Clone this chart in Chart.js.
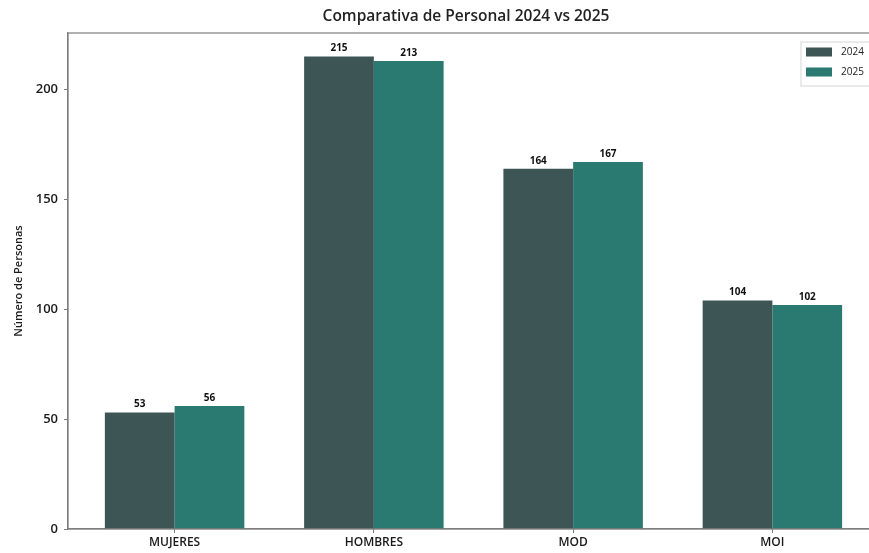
<!DOCTYPE html>
<html>
<head>
<meta charset="utf-8">
<script src="https://cdn.jsdelivr.net/npm/chart.js@4.4.1/dist/chart.umd.min.js"></script>
<style>
    html, body { margin: 0; padding: 0; background: #fff; }
    #wrap { width: 869px; height: 553px; overflow: hidden; position: relative; }
    #wrap .box { width: 932px; height: 553px; }
</style>
</head>
<body>
<div id="wrap"><div class="box"><canvas id="myChart"></canvas></div></div>
<script>
const titulo = 'Comparativa de Personal 2024 vs 2025';
const categorias = ["MUJERES", "HOMBRES", "MOD", "MOI"];
const personal2024 = [53, 215, 164, 104];
const personal2025 = [56, 213, 167, 102];
const yTicks = [0, 50, 100, 150, 200];

const FONT = "'Open Sans', sans-serif";

// titulo centrado sobre la figura completa
const tituloPlugin = {
    id: 'tituloPlugin',
    afterDraw(chart) {
        const { ctx, width } = chart;
        ctx.save();
        ctx.font = `600 15.5px ${FONT}`;
        ctx.fillStyle = '#222';
        ctx.textAlign = 'center';
        ctx.textBaseline = 'middle';
        ctx.fillText(titulo, width / 2, 17);
        ctx.restore();
    }
};

// marco completo del area de graficos (arriba y derecha incluidos)
const marco = {
    id: 'marco',
    afterDatasetsDraw(chart) {
        const { ctx, chartArea: a } = chart;
        ctx.save();
        ctx.strokeStyle = '#7d7d7d';
        ctx.lineWidth = 1.2;
        ctx.strokeRect(a.left, a.top, a.right - a.left, a.bottom - a.top);
        ctx.restore();
    }
};

// valor encima de cada barra
const etiquetas = {
    id: 'etiquetas',
    afterDatasetsDraw(chart) {
        const { ctx } = chart;
        ctx.save();
        ctx.font = `bold 10px ${FONT}`;
        ctx.fillStyle = '#111';
        ctx.textAlign = 'center';
        ctx.textBaseline = 'bottom';
        chart.data.datasets.forEach((ds, i) => {
            chart.getDatasetMeta(i).data.forEach((bar, j) => {
                ctx.fillText(ds.data[j].y, bar.x, bar.y - 3);
            });
        });
        ctx.restore();
    }
};

// leyenda dentro del area, esquina superior derecha
const leyenda = {
    id: 'leyenda',
    afterDraw(chart) {
        const { ctx, chartArea: a } = chart;
        const x = a.right - 78, y = a.top + 9;
        ctx.save();
        ctx.fillStyle = 'rgba(255,255,255,0.85)';
        ctx.strokeStyle = '#d6d6d6';
        ctx.lineWidth = 1;
        ctx.fillRect(x, y, 74, 44);
        ctx.strokeRect(x, y, 74, 44);
        ctx.font = `10px ${FONT}`;
        ctx.textBaseline = 'middle';
        chart.data.datasets.forEach((ds, i) => {
            const cy = y + 10 + i * 20;
            ctx.fillStyle = ds.backgroundColor;
            ctx.fillRect(x + 5, cy - 4.5, 26, 9);
            ctx.fillStyle = '#222';
            ctx.fillText(ds.label, x + 40, cy);
        });
        ctx.restore();
    }
};

const toPoints = arr => arr.map((v, i) => ({ x: i, y: v }));

new Chart(document.getElementById('myChart'), {
    type: 'bar',
    data: {
        datasets: [
            { label: '2024', data: toPoints(personal2024), backgroundColor: '#3e5556', borderWidth: 0 },
            { label: '2025', data: toPoints(personal2025), backgroundColor: '#2a7a71', borderWidth: 0 }
        ]
    },
    options: {
        responsive: true,
        maintainAspectRatio: false,
        animation: false,
        categoryPercentage: 0.7,
        barPercentage: 1.0,
        layout: { padding: { left: 0, right: 53, top: 33, bottom: 0 } },
        plugins: {
            legend: { display: false },
            tooltip: { enabled: false },
            title: { display: false }
        },
        scales: {
            x: {
                type: 'linear',
                offset: false,
                min: -0.535,
                max: 3.535,
                afterBuildTicks: s => { s.ticks = categorias.map((_, i) => ({ value: i })); },
                afterFit: s => { s.height = 24; },
                grid: { display: true, offset: false, drawOnChartArea: false, tickLength: 4, color: '#7d7d7d' },
                border: { color: '#7d7d7d', width: 1.2 },
                ticks: {
                    callback: v => categorias[v],
                    color: '#1a1a1a',
                    padding: 2,
                    maxRotation: 0,
                    font: { family: FONT, size: 12, weight: '600' }
                }
            },
            y: {
                min: 0,
                max: 225.75,
                afterBuildTicks: s => { s.ticks = yTicks.map(v => ({ value: v })); },
                afterFit: s => { s.width = 68; },
                grid: { display: true, drawOnChartArea: false, tickLength: 4, color: '#7d7d7d' },
                border: { color: '#7d7d7d', width: 1.2 },
                ticks: {
                    color: '#1a1a1a',
                    padding: 6,
                    font: { family: FONT, size: 13, weight: '600' }
                },
                title: {
                    display: true,
                    text: 'Número de Personas',
                    color: '#1a1a1a',
                    padding: { top: 12, bottom: 0 },
                    font: { family: FONT, size: 11, weight: '600' }
                }
            }
        }
    },
    plugins: [tituloPlugin, marco, etiquetas, leyenda]
});
</script>
</body>
</html>
